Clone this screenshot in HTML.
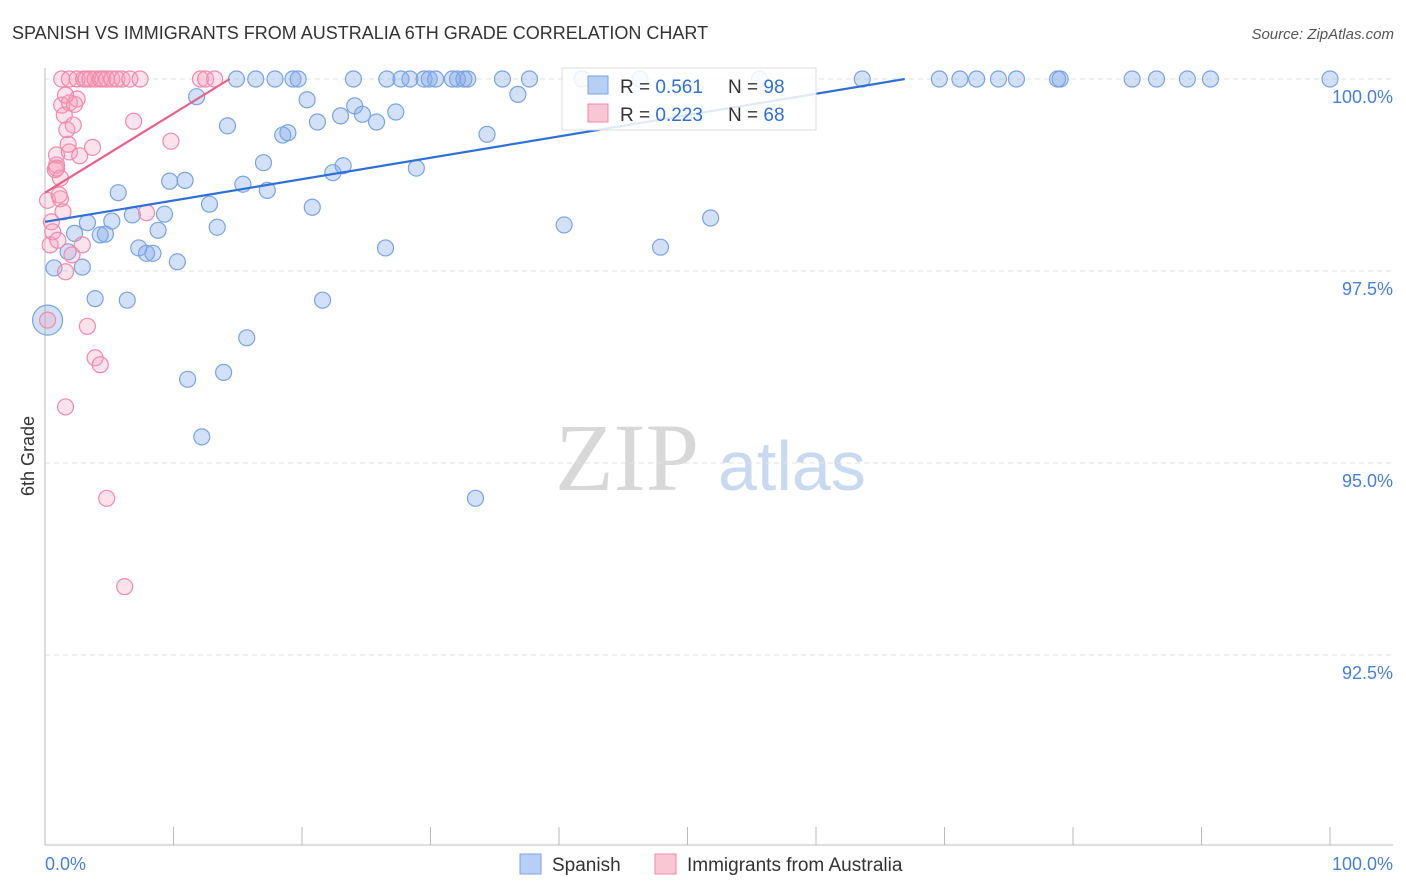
<!DOCTYPE html>
<html><head><meta charset="utf-8">
<style>
body{margin:0;background:#fff;font-family:"Liberation Sans",sans-serif;}
svg{display:block}
</style></head>
<body>
<svg id="chart" width="1406" height="892">
<text x="12" y="39" font-size="18" fill="#333">SPANISH VS IMMIGRANTS FROM AUSTRALIA 6TH GRADE CORRELATION CHART</text>
<text x="1394" y="39" font-size="15" fill="#555" text-anchor="end" font-style="italic">Source: ZipAtlas.com</text>
<text x="34" y="456" font-size="18" fill="#333" text-anchor="middle" transform="rotate(-90 34 456)">6th Grade</text>
<g>
<text x="555" y="490" font-size="96" fill="#d8d8d8" font-family="Liberation Serif,serif">ZIP</text>
<text x="718" y="490" font-size="70" fill="#c9d9f0">atlas</text>
</g>
<g id="grid"></g>
<g id="axes"></g>
<g id="pts"></g>
<g id="lines"></g>
<g>
<rect x="562" y="68" width="254" height="62" fill="#fff" fill-opacity="0.85" stroke="#ddd"/>
<rect x="588" y="76" width="20" height="18" fill="#b5cff5" stroke="#7aa3e0"/>
<text x="620" y="93" font-size="19" fill="#333">R = <tspan fill="#2f6fd6">0.561</tspan></text>
<text x="728" y="93" font-size="19" fill="#333">N = <tspan fill="#2f6fd6">98</tspan></text>
<rect x="588" y="104" width="20" height="18" fill="#f9c6d6" stroke="#f08aaa"/>
<text x="620" y="121" font-size="19" fill="#333">R = <tspan fill="#2f6fd6">0.223</tspan></text>
<text x="728" y="121" font-size="19" fill="#333">N = <tspan fill="#2f6fd6">68</tspan></text>
</g>
<g>
<rect x="520" y="854" width="21" height="20" fill="#b5cff5" stroke="#7aa3e0"/>
<text x="552" y="871" font-size="19" fill="#333">Spanish</text>
<rect x="655" y="854" width="21" height="20" fill="#f9c6d6" stroke="#f08aaa"/>
<text x="687" y="871" font-size="19" fill="#333">Immigrants from Australia</text>
</g>
</svg>
<script>
const yTicks=[100,97.5,95,92.5];
const yTickLabels=["100.0%","97.5%","95.0%","92.5%"];
const xTicks=[0,10,20,30,40,50,60,70,80,90,100];
const blueX=[0.2,0.7,1.8,2.3,2.9,3.3,3.9,4.3,4.7,5.2,5.7,6.4,6.8,7.3,7.9,8.4,8.8,9.3,9.7,10.3,10.9,11.1,11.8,12.2,12.8,13.4,13.9,14.2,14.9,15.4,15.7,16.4,17.0,17.3,17.9,18.5,18.9,19.3,19.7,20.4,20.8,21.2,21.6,22.4,23.0,23.2,24.0,24.1,24.7,25.8,26.5,26.6,27.3,27.7,28.4,28.9,29.5,29.9,30.4,31.7,32.1,32.6,32.9,33.5,34.4,35.6,36.8,37.7,40.4,41.8,46.3,47.9,51.8,55.6,63.6,69.6,71.2,72.5,74.2,75.6,78.8,79.0,84.6,86.5,88.9,90.7,100];
const blueY=[96.86,97.54,97.75,97.99,97.55,98.13,97.14,97.97,97.98,98.15,98.52,97.12,98.23,97.80,97.73,97.73,98.03,98.24,98.67,97.62,98.68,96.09,99.77,95.34,98.37,98.07,96.18,99.39,100,98.63,96.63,100,98.91,98.55,100,99.27,99.30,100,100,99.73,98.33,99.44,97.12,98.78,99.52,98.87,100,99.65,99.54,99.44,97.80,100,99.57,100,100,98.84,100,100,100,100,100,100,100,94.54,99.28,100,99.80,100,98.10,100,100,97.81,98.19,100,100,100,100,100,100,100,100,100,100,100,100,100,100];
const pinkX=[0.2,0.2,0.4,0.5,0.6,0.8,0.9,0.9,1.0,1.2,1.2,1.3,1.4,1.5,1.6,1.6,1.7,1.8,1.9,1.9,2.1,2.2,2.3,2.5,2.7,2.9,3.3,3.7,3.9,4.3,4.8,6.2,6.9,7.9,9.8,0.9,1.1,1.6,1.3,1.9,2.5,3.0,3.2,3.5,3.9,4.3,4.5,4.8,5.2,5.6,6.0,6.6,7.4,12.1,12.5,13.2];
const pinkY=[98.42,96.86,97.84,98.14,98.01,98.82,98.88,99.01,97.90,98.44,98.71,99.66,98.27,99.53,97.49,95.73,99.34,99.15,99.69,99.05,97.71,99.40,99.67,99.74,99.00,97.84,96.78,99.11,96.37,96.28,94.54,93.39,99.45,98.26,99.19,98.84,98.49,99.79,100,100,100,100,100,100,100,100,100,100,100,100,100,100,100,100,100,100];
const blueFit=[98.14,0.0278];  // intercept, slope
const pinkFit=[98.52,0.103];
const NS="http://www.w3.org/2000/svg";
const X=v=>45+v*12.85, Y=v=>79+(100-v)*76.8;
function mk(p,tag,a){const e=document.createElementNS(NS,tag);for(const k in a)e.setAttribute(k,a[k]);p.appendChild(e);return e;}
const grid=document.getElementById('grid'),axes=document.getElementById('axes');
yTicks.forEach((t,i)=>{
 const l=mk(grid,'line',{x1:45,x2:1393,y1:Y(t),y2:Y(t),stroke:'#e2e2e2','stroke-dasharray':'5,4'});
 
 
 const tx=mk(axes,'text',{x:1393,y:Y(t)+24,'font-size':18,fill:'#4a7fd4','text-anchor':'end'});
 tx.textContent=yTickLabels[i];
 
 
});
const ax=mk(axes,'line',{x1:45,x2:1393,y1:845,y2:845,stroke:'#bbb'});


const ay=mk(axes,'line',{x1:45,x2:45,y1:68,y2:845,stroke:'#bbb'});


xTicks.forEach(t=>{
 const l=mk(axes,'line',{x1:X(t),x2:X(t),y1:827,y2:845,stroke:'#bbb'});
 
 
});
[[0,'0.0%','start',45],[100,'100.0%','end',1393]].forEach(d=>{
 const t=mk(axes,'text',{x:d[3],y:870,'font-size':18,fill:'#4a7fd4','text-anchor':d[2]});
 t.textContent=d[1];
 
 
});
const pts=document.getElementById('pts');
blueX.forEach((x,i)=>{
 const c=mk(pts,'circle',{cx:X(x),cy:Y(blueY[i]),r:i==0?15:8,fill:'rgba(130,170,235,0.35)',stroke:'#7aa3e0','stroke-width':1.2});
 
 
});
pinkX.forEach((x,i)=>{
 const c=mk(pts,'circle',{cx:X(x),cy:Y(pinkY[i]),r:8,fill:'rgba(245,160,190,0.3)',stroke:'#f08aaa','stroke-width':1.2});
 
 
});
const lines=document.getElementById('lines');
function fit(f,color,name){
 const xe=Math.min(100,(100-f[0])/f[1]);
 const l=mk(lines,'line',{x1:X(0),y1:Y(f[0]),x2:X(xe),y2:Y(f[0]+f[1]*xe),stroke:color,'stroke-width':2.2});
 
 
}
fit(blueFit,'#2f6fd6','spanish-trend-line');
fit(pinkFit,'#e8608a','australia-trend-line');
</script>
</body></html>
